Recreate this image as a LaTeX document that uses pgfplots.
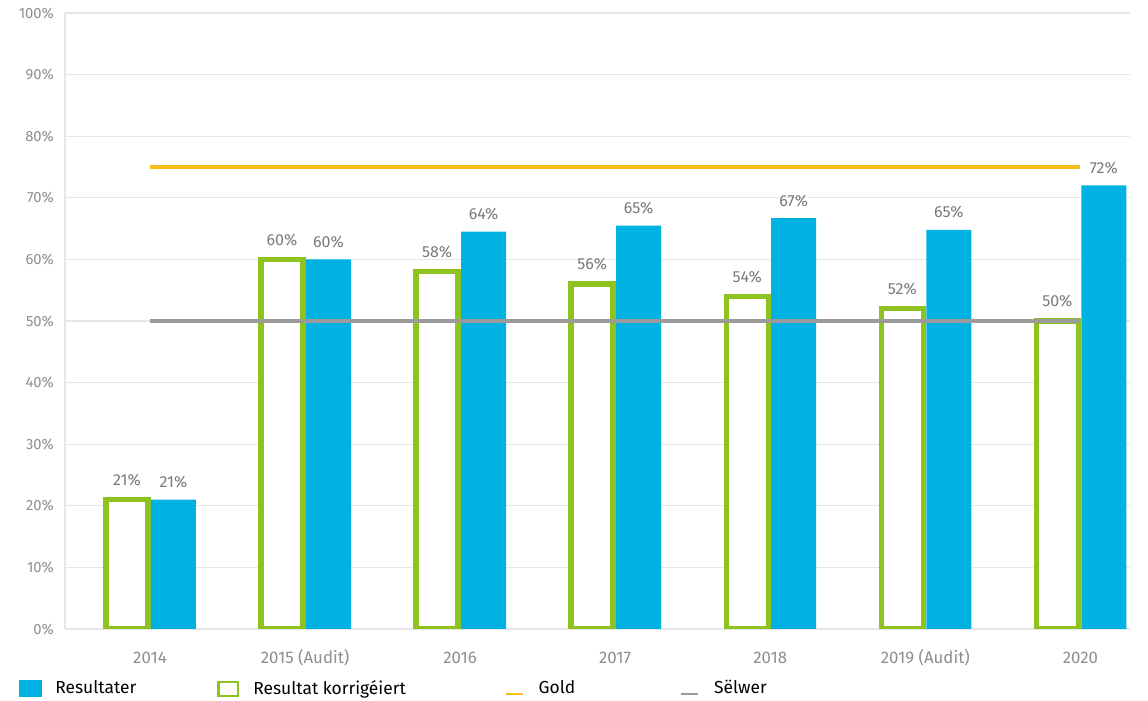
\documentclass[border=0pt]{standalone}
\usepackage{pgfplots}
\pgfplotsset{compat=1.18}
\usepackage{fontspec}
\setmainfont{Fira Sans}
\definecolor{resblue}{HTML}{00B2E2}
\definecolor{resgreen}{HTML}{8DC21F}
\definecolor{goldc}{HTML}{F8BE1C}
\definecolor{silverc}{HTML}{9B9B9B}
\definecolor{ticktxt}{HTML}{8E8E8E}
\definecolor{gridc}{HTML}{E6E6E6}
\begin{document}
\begin{tikzpicture}
\useasboundingbox (-32.5pt,-36pt) rectangle (541.5pt,314.5pt);
\begin{axis}[
  at={(0,0)}, anchor=south west,
  scale only axis,
  width=532.5pt, height=308pt,
  xmin=-0.548, xmax=6.32,
  ymin=0, ymax=100,
  ytick={0,10,...,100},
  yticklabel={\pgfmathprintnumber{\tick}\%},
  xtick={0,1,2,3,4,5,6},
  xticklabels={2014,2015 (Audit),2016,2017,2018,2019 (Audit),2020},
  ymajorgrids,
  grid style={gridc, line width=0.6pt},
  axis lines*=left,
  x axis line style={draw=none},
  y axis line style={gridc, line width=0.6pt, -},
  major tick length=0pt,
  tick style={draw=none},
  /pgf/number format/assume math mode=true,
  yticklabel style={font=\fontsize{7.4}{8}\selectfont, color=ticktxt, xshift=-2pt},
  xticklabel style={font=\fontsize{8.4}{9}\selectfont, color=ticktxt, yshift=-6pt, text height=1.5ex, text depth=0.3ex},
  point meta=explicit symbolic,
  legend columns=4,
  legend style={at={(-0.044,-0.097)}, anchor=west, draw=none, fill=none,
    font=\fontsize{8.7}{10}\selectfont, inner sep=0pt,
    /tikz/every even column/.append style={column sep=0pt}},
  legend cell align=left,
]
% legend entries
\addlegendimage{legend image code/.code={\fill[resblue] (0pt,-4pt) rectangle (11pt,4pt);}}
\addlegendentry{\makebox[84pt][l]{\hspace{5pt}Resultater}}
\addlegendimage{legend image code/.code={\draw[resgreen, line width=1.1pt] (0.55pt,-3.45pt) rectangle (10.45pt,3.45pt);}}
\addlegendentry{\makebox[128.5pt][l]{\hspace{5pt}Resultat korrigéiert}}
\addlegendimage{legend image code/.code={\draw[goldc, line width=1.2pt] (0pt,-2.6pt) -- (8.5pt,-2.6pt);}}
\addlegendentry{\makebox[74pt][l]{\hspace{5.5pt}Gold}}
\addlegendimage{legend image code/.code={\draw[silverc, line width=1.2pt] (0pt,-2.6pt) -- (8.5pt,-2.6pt);}}
\addlegendentry{\hspace{5.5pt}Sëlwer}

% Resultat korrigeiert (outlined green)
\addplot[ybar, bar width=21pt, bar shift=-11.5pt, draw=resgreen, line width=2.7pt, fill=white, forget plot,
  nodes near coords, nodes near coords style={font=\fontsize{8}{9}\selectfont, color=ticktxt!85!black, inner sep=1pt, yshift=4.5pt, xshift=-11.5pt}]
  coordinates {(0,21)[21\%] (1,60)[60\%] (2,58)[58\%] (3,56)[56\%] (4,54)[54\%] (5,52)[52\%] (6,50)[50\%]};
% Resultater (blue)
\addplot[ybar, bar width=22.5pt, bar shift=11.75pt, draw=none, fill=resblue, forget plot,
  nodes near coords, nodes near coords style={font=\fontsize{8}{9}\selectfont, color=ticktxt!85!black, inner sep=1pt, yshift=4.5pt, xshift=11.75pt}]
  coordinates {(0,21)[21\%] (1,60)[60\%] (2,64.5)[64\%] (3,65.5)[65\%] (4,66.7)[67\%] (5,64.8)[65\%] (6,72)[72\%]};
% Gold and Selwer lines
\addplot[goldc, line width=2pt, no markers, forget plot] coordinates {(0,75) (6,75)};
\addplot[silverc, line width=2.2pt, no markers, forget plot] coordinates {(0,50) (6,50)};
\end{axis}
\end{tikzpicture}
\end{document}
